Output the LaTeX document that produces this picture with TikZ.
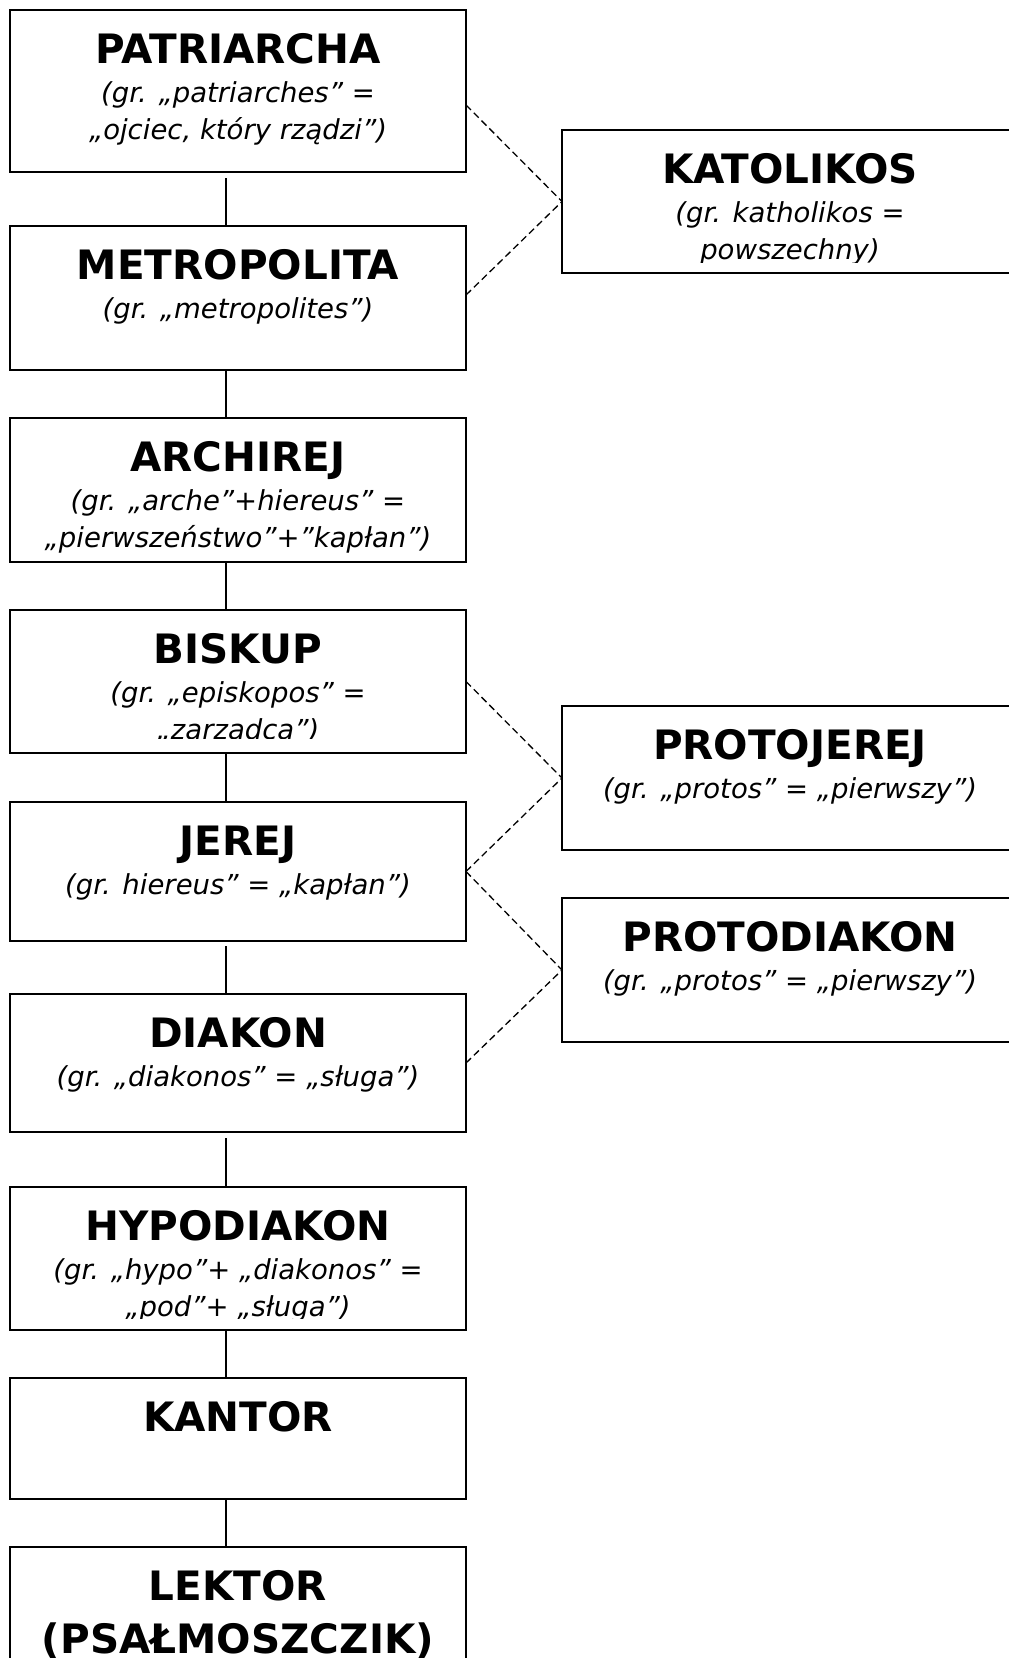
\documentclass[tikz,border=0pt]{standalone}
\usepackage{fontspec}
\setmainfont{DejaVu Sans}
\tikzset{
  boxst/.style={draw=black, line width=1.5pt, minimum width=456pt, inner sep=0pt, outer sep=0pt, fill=white},
  txt/.style={inner sep=0pt, outer sep=0pt},
  conn/.style={draw=black, line width=1.4pt},
  dashln/.style={draw=black, line width=1.3pt, dash pattern=on 7pt off 4pt},
}
\newcommand\ttl[1]{{\fontsize{40.5pt}{53pt}\selectfont\bfseries #1\par}}
\newcommand\subt[1]{{\vspace{2pt}\fontsize{27.5pt}{37pt}\selectfont\itshape #1\par}}
% #1 name, #2 left x, #3 top y, #4 height, #5 clip offset from top, #6 text
\newcommand\rankbox[6]{%
  \node[boxst, minimum height=#4pt, anchor=north west] (#1) at (#2,#3) {};
  \begin{scope}
    \clip ([xshift=1pt,yshift=-1pt]#1.north west) rectangle ([xshift=-1pt,yshift=-#5pt]#1.north east);
    \node[txt, anchor=base] (#1t) at ([yshift=-53pt]#1.north) {\parbox[t]{450pt}{\centering #6}};
  \end{scope}}
\begin{document}
\begin{tikzpicture}[x=1pt,y=-1pt]
\useasboundingbox (0,0) rectangle (1009,1658);
\clip (0,0) rectangle (1009,1658);
\fill[white] (0,0) rectangle (1009,1658);

\rankbox{pat}{10}{10}{162}{160}{\ttl{PATRIARCHA}\subt{(gr. „patriarches” =\\„ojciec, który rządzi”)}}
\rankbox{met}{10}{226}{144}{142}{\ttl{METROPOLITA}\subt{(gr. „metropolites”)}}
\rankbox{arch}{10}{418}{144}{134}{\ttl{ARCHIREJ}\subt{(gr. „arche”+hiereus” =\\„pierwszeństwo”+”kapłan”)}}
\rankbox{bis}{10}{610}{143}{128}{\ttl{BISKUP}\subt{(gr. „episkopos” =\\„zarządca”)}}
\rankbox{jer}{10}{802}{139}{137}{\ttl{JEREJ}\subt{(gr. hiereus” = „kapłan”)}}
\rankbox{dia}{10}{994}{138}{136}{\ttl{DIAKON}\subt{(gr. „diakonos” = „sługa”)}}
\rankbox{hyp}{10}{1187}{143}{131}{\ttl{HYPODIAKON}\subt{(gr. „hypo”+ „diakonos” =\\„pod”+ „sługa”)}}
\rankbox{kan}{10}{1378}{121}{119}{\ttl{KANTOR}}
\rankbox{lek}{10}{1547}{150}{148}{\ttl{LEKTOR\\(PSAŁMOSZCZIK)}}

\rankbox{kat}{562}{130}{143}{132}{\ttl{KATOLIKOS}\subt{(gr. katholikos =\\powszechny)}}
\rankbox{pj}{562}{706}{144}{142}{\ttl{PROTOJEREJ}\subt{(gr. „protos” = „pierwszy”)}}
\rankbox{pd}{562}{898}{144}{142}{\ttl{PROTODIAKON}\subt{(gr. „protos” = „pierwszy”)}}

% vertical connectors
\draw[conn, shorten <=6pt] ([xshift=-12pt]pat.south) -- ([xshift=-12pt]met.north);
\draw[conn] ([xshift=-12pt]met.south) -- ([xshift=-12pt]arch.north);
\draw[conn] ([xshift=-12pt]arch.south) -- ([xshift=-12pt]bis.north);
\draw[conn] ([xshift=-12pt]bis.south) -- ([xshift=-12pt]jer.north);
\draw[conn, shorten <=5pt] ([xshift=-12pt]jer.south) -- ([xshift=-12pt]dia.north);
\draw[conn, shorten <=6pt] ([xshift=-12pt]dia.south) -- ([xshift=-12pt]hyp.north);
\draw[conn] ([xshift=-12pt]hyp.south) -- ([xshift=-12pt]kan.north);
\draw[conn] ([xshift=-12pt]kan.south) -- ([xshift=-12pt]lek.north);

% dashed connectors
\draw[dashln] ([yshift=-14pt]pat.east) -- (kat.west);
\draw[dashln] ([yshift=3pt]met.east) -- (kat.west);
\draw[dashln] (bis.east) -- (pj.west);
\draw[dashln] (jer.east) -- (pj.west);
\draw[dashln] (jer.east) -- (pd.west);
\draw[dashln] (dia.east) -- (pd.west);
\end{tikzpicture}
\end{document}
